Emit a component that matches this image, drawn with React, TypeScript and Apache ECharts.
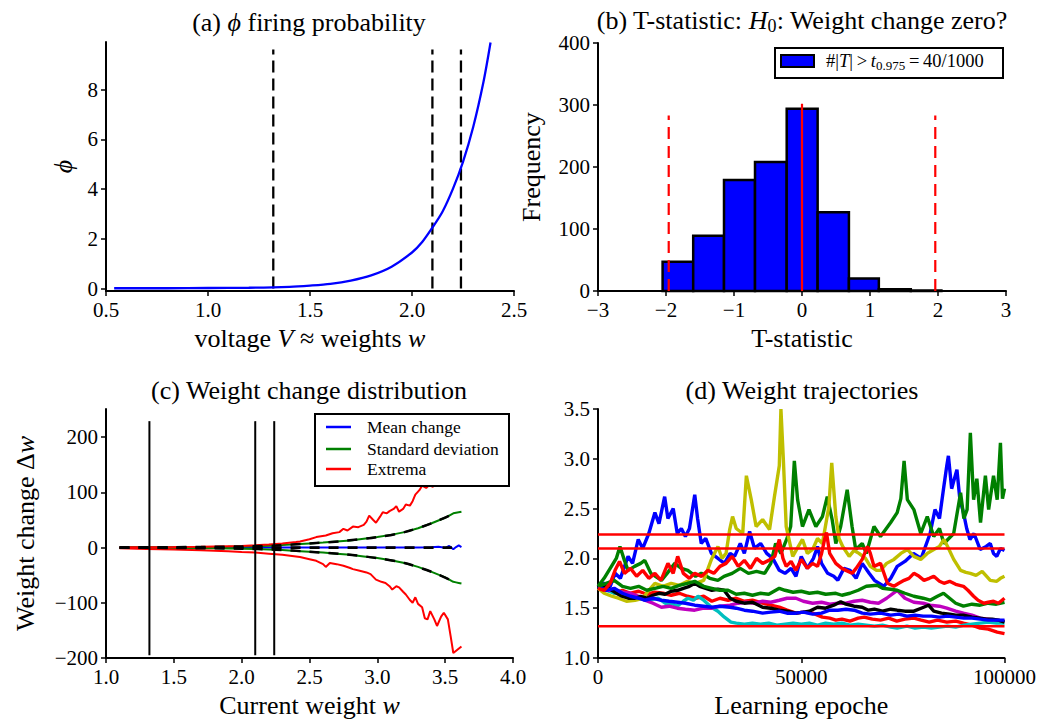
import React, { useEffect, useRef } from 'react';
import * as echarts from 'echarts';

const F = "'Liberation Serif', 'Times New Roman', serif";

// ---------- (a) phi firing probability ----------
const phiVoltage = [0.54, 0.8, 1.0, 1.2, 1.4, 1.5, 1.6, 1.7, 1.8, 1.9, 2.0, 2.05, 2.1, 2.15, 2.2, 2.25, 2.3, 2.35, 2.385];
const phiValues = [0.01, 0.01, 0.02, 0.03, 0.07, 0.12, 0.19, 0.32, 0.53, 0.88, 1.45, 1.87, 2.45, 3.1, 4.0, 5.1, 6.5, 8.3, 9.9];
const thresholds = [1.32, 2.1, 2.24];
const phiTicks = [0, 2, 4, 6, 8];

// ---------- (b) T-statistic histogram ----------
const binEdges = [-2.05, -1.6, -1.147, -0.691, -0.225, 0.23, 0.69, 1.13, 1.6, 2.05];
const binCounts = [47, 89, 179, 208, 294, 127, 20, 3, 1];
const tCritical = 1.96;
const tCritHeight = 283;
const tZeroHeight = 302;

// ---------- (c) weight change distribution ----------
const cWeight = [1.1, 1.2, 1.3, 1.4, 1.5, 1.6, 1.7, 1.8, 1.9, 2.0, 2.1, 2.2, 2.3, 2.4, 2.5, 2.6, 2.7, 2.8, 2.9, 3.0, 3.1, 3.2, 3.3, 3.4, 3.45, 3.5, 3.53, 3.56, 3.58, 3.6, 3.62];
const meanChange = [0, 0, 0, 0, 0, 0, 0, 0, 0, 0, 0, 0, 0, 0, 0, 0, 0, 0, 0, 0, 0, 0, 0, 0.5, 1.5, -0.5, 3, -3, 1, 4, 1];
const stdDev = [0.3, 0.4, 0.5, 0.6, 0.7, 0.8, 1.0, 1.2, 1.5, 2.0, 2.6, 3.4, 4.5, 6, 7.5, 9, 11, 13, 16, 19, 23, 28, 35, 44, 49, 54, 58, 62, 63, 64, 65];
const theoryWeight = [1.1, 1.5, 2.0, 2.25, 2.5, 2.75, 3.0, 3.2, 3.4, 3.55];
const theoryStd = [0.3, 0.7, 2, 3.8, 7.5, 12, 19, 28, 44, 60];
const extremaUpW = [1.1, 1.3, 1.5, 1.7, 1.9, 2.0, 2.1, 2.2, 2.3, 2.4, 2.43, 2.5, 2.55, 2.62, 2.67, 2.72, 2.75, 2.78, 2.82, 2.86, 2.9, 2.92, 2.94, 2.97, 2.99, 3.02, 3.04, 3.07, 3.09, 3.12, 3.14, 3.16, 3.19, 3.21, 3.24, 3.26, 3.28, 3.31, 3.33, 3.36, 3.38, 3.41, 3.43, 3.47, 3.5, 3.55, 3.58, 3.62];
const extremaUp = [0.5, 0.8, 1, 1.5, 2.5, 3, 4, 5.5, 7.5, 10, 11, 15, 19, 22, 26, 28, 34, 31, 38, 37, 41, 47, 58, 50, 45, 56, 64, 62, 66, 70, 75, 65, 70, 78, 76, 84, 96, 104, 112, 108, 113, 110, 120, 135, 150, 170, 185, 180];
const extremaLowW = [1.1, 1.3, 1.5, 1.7, 1.9, 2.0, 2.1, 2.2, 2.3, 2.4, 2.43, 2.5, 2.55, 2.6, 2.62, 2.65, 2.7, 2.75, 2.8, 2.82, 2.87, 2.92, 2.95, 2.99, 3.03, 3.06, 3.09, 3.11, 3.14, 3.16, 3.19, 3.21, 3.24, 3.26, 3.28, 3.3, 3.33, 3.35, 3.37, 3.39, 3.42, 3.44, 3.47, 3.49, 3.52, 3.54, 3.56, 3.59, 3.62];
const extremaLow = [-1, -2.5, -3.5, -5, -6.5, -8, -9, -11, -13, -16, -17, -21, -24, -30, -35, -28, -30, -33, -37, -39, -42, -45, -48, -58, -62, -64, -70, -76, -70, -72, -80, -85, -95, -100, -90, -102, -108, -128, -130, -115, -130, -142, -125, -118, -130, -160, -191, -185, -179];
const cTicks = [-200, -100, 0, 100, 200];

// ---------- (d) weight trajectories ----------
const trajBlue1 = [[0,1.72],[1500,1.75],[3000,1.72],[4200,1.85],[5500,1.8],[7400,2.02],[8500,1.95],[9900,2.19],[11000,2.1],[12500,2.25],[14000,2.46],[15000,2.35],[16400,2.62],[17200,2.4],[18500,2.5],[19500,2.25],[20500,2.3],[21500,2.22],[22500,2.3],[23800,2.64],[24500,2.4],[25400,2.15],[26500,2.2],[27900,2.05],[29500,2.0],[31100,1.95],[32500,2.05],[33600,2.02],[35000,2.15],[36000,2.05],[37300,2.27],[38500,2.1],[40000,2.15],[41500,2.05],[43000,2.0],[44600,1.88],[46000,1.85],[47500,1.9],[48700,1.82],[50000,2.02],[51500,1.9],[53000,2.0],[54000,2.12],[55000,1.95],[56500,1.85],[58000,1.82],[59000,1.78],[60500,1.9],[62000,1.88],[63500,1.8],[65000,1.95],[66700,1.85],[68000,1.78],[70300,1.72],[72000,1.8],[73600,1.92],[75500,1.97],[77600,2.05],[79500,2.0],[81700,2.25],[82900,2.49],[84000,2.4],[85000,2.7],[85800,2.93],[86200,3.03],[87000,2.7],[87400,2.76],[88300,2.89],[89000,2.6],[89900,2.46],[90700,2.3],[91500,2.19],[92500,2.25],[94000,2.09],[95500,2.12],[96500,2.15],[97300,2.05],[98100,2.02],[99000,2.1],[100000,2.08]];
const trajGreen1 = [[0,1.72],[1500,1.8],[3000,1.9],[4500,2.0],[5400,2.12],[6500,1.98],[7400,1.88],[9000,1.92],[10500,1.95],[11500,1.98],[13000,1.85],[15600,1.78],[17000,1.85],[18900,1.95],[20500,1.9],[22100,1.88],[24000,1.82],[25400,1.85],[27500,1.8],[29500,1.78],[31000,1.82],[33000,1.85],[35000,1.9],[37000,1.85],[39000,1.87],[41000,1.85],[42500,1.95],[43700,2.15],[45000,2.05],[46500,2.2],[47400,2.32],[48300,2.98],[49100,2.59],[50300,2.32],[51900,2.49],[53600,2.32],[55200,2.42],[56400,2.62],[57600,2.39],[58500,2.15],[59700,2.32],[61300,2.69],[62500,2.32],[63400,2.09],[65000,2.15],[66000,2.05],[67900,2.32],[69500,2.22],[72000,2.36],[73600,2.46],[74500,2.6],[75300,2.98],[76100,2.59],[77700,2.49],[79400,2.25],[81000,2.42],[82600,2.22],[84000,2.3],[85100,2.15],[87500,2.25],[89200,2.66],[90000,2.4],[90800,2.49],[91600,3.26],[92400,2.59],[93200,2.8],[94100,2.36],[95300,2.83],[96100,2.49],[97300,2.83],[98200,2.59],[99000,3.16],[99500,2.6],[100000,2.7]];
const trajRed1 = [[0,1.7],[1500,1.68],[3000,1.75],[4200,1.88],[5300,1.97],[6500,1.85],[8000,1.9],[9500,1.82],[11000,1.88],[12500,1.8],[14000,1.85],[15500,1.78],[17200,1.95],[18500,1.85],[19600,2.02],[21000,1.85],[22500,1.8],[23800,1.85],[25500,1.82],[27000,1.88],[28500,1.85],[30000,1.92],[31500,1.95],[33000,2.02],[34500,1.92],[36000,1.98],[37500,1.9],[39000,2.0],[40500,1.95],[42000,1.98],[43500,2.02],[44600,2.19],[45500,2.0],[46300,1.92],[47500,1.97],[48700,1.88],[50000,1.99],[51500,1.9],[52800,1.95],[54000,1.92],[55000,2.05],[55800,2.2],[56200,2.26],[57000,2.05],[58500,1.95],[60000,1.9],[61000,1.88],[62500,1.85],[63500,1.9],[65000,1.99],[66300,2.12],[67000,2.05],[67900,1.92],[69500,1.95],[71200,1.75],[72800,1.72],[74000,1.75],[75300,1.78],[76500,1.8],[77700,1.85],[79000,1.82],[80200,1.78],[81500,1.8],[82600,1.82],[84000,1.77],[85100,1.75],[86500,1.77],[88000,1.74],[89900,1.72],[91000,1.68],[92400,1.62],[93500,1.58],[94900,1.55],[96000,1.56],[97300,1.57],[98500,1.55],[100000,1.6]];
const trajRed2 = [[0,1.7],[2000,1.72],[4000,1.65],[6000,1.68],[8000,1.65],[10000,1.67],[12000,1.64],[14000,1.66],[16000,1.65],[18000,1.63],[20000,1.65],[22000,1.62],[24000,1.6],[26000,1.62],[28000,1.57],[30000,1.6],[32000,1.58],[34000,1.6],[36000,1.57],[38000,1.58],[40500,1.55],[42500,1.53],[44600,1.51],[46500,1.48],[48700,1.45],[50500,1.46],[52800,1.45],[54000,1.43],[55200,1.41],[57000,1.4],[58500,1.38],[60000,1.39],[62000,1.37],[64000,1.4],[65500,1.41],[67500,1.39],[69500,1.38],[71500,1.4],[73500,1.37],[75500,1.39],[77700,1.4],[79500,1.38],[81500,1.36],[83500,1.38],[85800,1.36],[88000,1.37],[89900,1.35],[92000,1.33],[94000,1.3],[96000,1.29],[98200,1.26],[100000,1.245]];
const trajCyan = [[0,1.7],[2000,1.68],[4000,1.65],[6000,1.66],[8000,1.62],[10000,1.6],[12000,1.58],[14800,1.6],[16500,1.55],[18100,1.55],[19500,1.52],[21000,1.57],[22100,1.6],[23500,1.58],[24600,1.62],[26000,1.58],[27900,1.51],[29500,1.47],[31100,1.41],[32700,1.36],[34000,1.35],[36000,1.34],[38000,1.35],[40000,1.34],[42000,1.35],[44000,1.33],[46000,1.34],[48000,1.35],[50000,1.34],[52000,1.35],[54000,1.33],[56000,1.35],[58000,1.34],[60000,1.35],[62000,1.33],[64000,1.34],[66000,1.33],[68000,1.32],[70000,1.33],[72000,1.31],[73600,1.3],[76000,1.32],[78000,1.3],[80000,1.31],[82000,1.3],[84000,1.31],[86000,1.32],[88000,1.31],[90000,1.33],[92000,1.34],[94000,1.35],[96000,1.36],[98000,1.35],[100000,1.35]];
const trajMagenta = [[0,1.7],[2000,1.68],[4200,1.68],[6000,1.66],[8000,1.65],[10000,1.62],[11500,1.58],[13500,1.55],[15600,1.51],[17500,1.52],[19500,1.5],[21500,1.49],[23800,1.48],[26000,1.5],[28000,1.5],[30000,1.52],[32500,1.53],[34500,1.55],[36500,1.56],[38500,1.55],[40500,1.57],[42500,1.56],[44600,1.58],[46500,1.6],[48700,1.6],[50500,1.57],[52800,1.55],[55000,1.56],[57000,1.54],[59000,1.55],[61000,1.55],[63000,1.57],[65000,1.58],[67000,1.56],[69000,1.55],[71000,1.6],[73600,1.68],[75500,1.6],[77700,1.56],[80000,1.55],[81700,1.53],[84000,1.52],[85800,1.5],[88000,1.47],[89900,1.45],[92000,1.43],[94000,1.4],[96000,1.39],[98000,1.38],[100000,1.37]];
const trajYellow = [[0,1.7],[1500,1.65],[3400,1.62],[5000,1.6],[7000,1.57],[9100,1.58],[11000,1.6],[12500,1.68],[14000,1.75],[16000,1.72],[18000,1.75],[20000,1.73],[22000,1.77],[24000,1.75],[26000,1.78],[27900,1.99],[29500,2.12],[30500,2.0],[31500,2.05],[32400,2.29],[33100,2.42],[34000,2.3],[35600,2.25],[36500,2.83],[37700,2.59],[38900,2.32],[40500,2.39],[42200,2.29],[43400,2.62],[44600,2.93],[45000,3.5],[45600,2.99],[46300,2.32],[47900,2.02],[49000,2.1],[50300,2.19],[51500,2.05],[52800,2.09],[54000,2.2],[55200,2.15],[56800,2.52],[57500,2.96],[58500,2.42],[59300,2.2],[60200,2.12],[61800,2.02],[63000,2.08],[64200,2.05],[65800,2.0],[67000,1.92],[68500,1.88],[69500,1.88],[71000,1.95],[72800,1.99],[74500,2.05],[76100,2.09],[77700,2.02],[79400,1.99],[81000,2.05],[82600,2.09],[84000,2.12],[85100,2.19],[86000,2.12],[87500,1.99],[89200,1.88],[90500,1.86],[91600,1.85],[93000,1.83],[94500,1.87],[96500,1.78],[98100,1.77],[99000,1.8],[100000,1.82]];
const trajBlack = [[0,1.7],[2000,1.72],[3400,1.68],[5000,1.64],[5900,1.62],[7500,1.6],[9100,1.6],[10500,1.62],[12000,1.6],[13500,1.63],[15000,1.65],[16500,1.64],[18000,1.67],[19600,1.68],[21000,1.7],[22500,1.72],[23800,1.75],[25000,1.72],[26500,1.7],[28000,1.68],[29500,1.69],[31000,1.68],[32500,1.6],[34000,1.57],[36000,1.55],[38000,1.56],[40500,1.51],[42500,1.5],[44600,1.48],[46500,1.47],[48700,1.45],[50500,1.46],[52000,1.47],[54000,1.51],[56000,1.5],[58000,1.53],[59700,1.565],[61000,1.54],[63000,1.52],[65000,1.51],[66500,1.48],[68000,1.49],[70000,1.47],[72000,1.49],[73600,1.48],[75500,1.47],[77700,1.47],[79500,1.5],[81300,1.53],[82600,1.47],[84500,1.45],[86500,1.44],[88000,1.43],[89900,1.43],[92000,1.41],[94000,1.4],[95500,1.39],[97000,1.39],[98500,1.38],[100000,1.36]];
const trajBlue2 = [[0,1.72],[2000,1.68],[4000,1.7],[6000,1.65],[8000,1.62],[10000,1.6],[11500,1.58],[13500,1.6],[15600,1.58],[17500,1.57],[19600,1.56],[21500,1.55],[23800,1.53],[26000,1.52],[28000,1.51],[30000,1.52],[32500,1.51],[34000,1.5],[36000,1.48],[38000,1.47],[40500,1.45],[42500,1.46],[44600,1.47],[46500,1.45],[48700,1.45],[50500,1.46],[52800,1.44],[55000,1.45],[57000,1.48],[59000,1.48],[61000,1.49],[63000,1.48],[65000,1.45],[67000,1.44],[69500,1.45],[72000,1.43],[74000,1.44],[76000,1.42],[78000,1.43],[80000,1.42],[82000,1.42],[84000,1.41],[86000,1.42],[88000,1.41],[90000,1.4],[92000,1.4],[94000,1.39],[96000,1.38],[98000,1.38],[100000,1.38]];
const trajGreen2 = [[0,1.72],[2000,1.75],[4000,1.78],[6000,1.72],[8000,1.7],[10000,1.72],[12000,1.68],[14000,1.7],[16000,1.72],[18000,1.7],[20000,1.73],[22000,1.75],[23800,1.77],[26000,1.72],[28000,1.7],[30000,1.68],[32000,1.68],[34000,1.64],[36000,1.65],[38000,1.63],[40000,1.65],[42000,1.64],[44600,1.7],[46000,1.68],[48000,1.66],[50000,1.67],[52000,1.65],[54000,1.66],[56000,1.64],[58500,1.65],[60000,1.63],[62000,1.65],[64000,1.68],[66000,1.72],[68700,1.73],[70000,1.7],[72000,1.69],[73600,1.68],[75500,1.65],[77700,1.62],[80000,1.6],[81700,1.58],[83500,1.62],[85000,1.65],[86500,1.6],[88000,1.55],[89900,1.52],[92000,1.54],[94000,1.53],[96000,1.55],[98000,1.54],[100000,1.56]];
const trajectorySet = [trajBlue1, trajGreen1, trajRed2, trajCyan, trajMagenta, trajYellow, trajBlack, trajBlue2, trajGreen2, trajRed1];
const trajectoryColors = ['#0000ff', '#008000', '#ff0000', '#00bfbf', '#bf00bf', '#bfbf00', '#000000', '#0000ff', '#008000', '#ff0000'];

const fmt = (d?: number) => (v: number) => {
  const s = d == null ? String(Math.round(v)) : v.toFixed(d);
  return s.replace('-', '\u2212');
};

const nameStyle = {
  fontFamily: F, fontSize: 26, color: '#000',
  rich: {
    i: { fontFamily: F, fontSize: 26, color: '#000', fontStyle: 'italic' },
    n: { fontFamily: F, fontSize: 26, color: '#000' },
  },
};

function axis(gridIndex: number, extra: any) {
  return {
    type: 'value',
    gridIndex,
    axisLine: { show: true, onZero: false, lineStyle: { color: '#000', width: 2 } },
    axisTick: { show: true, length: 5, lineStyle: { color: '#000', width: 1.5 }, ...(extra.tick || {}) },
    axisLabel: { color: '#000', fontFamily: F, fontSize: 21, margin: 8, ...(extra.label || {}) },
    splitLine: { show: false },
    nameTextStyle: nameStyle,
    nameLocation: 'middle',
    ...extra.rest,
  };
}

const lineS = (xi: number, data: any[], color: string, width: number, extra: any = {}) => ({
  type: 'line', xAxisIndex: xi, yAxisIndex: xi, data, showSymbol: false, symbol: 'none',
  lineStyle: { color, width, ...(extra.ls || {}) }, itemStyle: { color }, z: extra.z ?? 2, silent: true, smooth: extra.smooth ?? false,
});

const txt = (x: number, y: number, text: string, size: number, align: string, rich: any = {}, z = 20) => ({
  type: 'text', x, y, z,
  style: {
    text, fill: '#000', fontFamily: F, fontSize: size, align, textAlign: align,
    verticalAlign: 'middle', textVerticalAlign: 'middle', rich,
  },
});

export default function App() {
  const ref = useRef<HTMLDivElement>(null);
  useEffect(() => {
    if (!ref.current) return;
    const chart = echarts.init(ref.current, undefined, { renderer: 'svg' });
    const series: any[] = [];

    // (a)
    series.push(lineS(0, phiVoltage.map((v, i) => [v, phiValues[i]]), '#0000ff', 2.3, { smooth: 0.3, z: 3 }));
    thresholds.forEach((t) => series.push(lineS(0, [[t, 0], [t, 9.62]], '#000', 2.3, { ls: { type: [12, 6] } })));

    // (b)
    series.push({
      type: 'custom', xAxisIndex: 1, yAxisIndex: 1, silent: true, z: 2,
      data: binCounts.map((c, i) => [binEdges[i], binEdges[i + 1], c]),
      encode: { x: [0, 1], y: 2 },
      renderItem: (params: any, api: any) => {
        const p0 = api.coord([api.value(0), api.value(2)]);
        const p1 = api.coord([api.value(1), 0]);
        return {
          type: 'rect',
          shape: { x: p0[0], y: p0[1], width: p1[0] - p0[0], height: p1[1] - p0[1] },
          style: { fill: '#0000ff', stroke: '#000', lineWidth: 2.5 },
        };
      },
    });
    [-tCritical, tCritical].forEach((t) => series.push(lineS(1, [[t, 0], [t, tCritHeight]], '#ff0000', 2.2, { ls: { type: [12, 7] }, z: 4 })));
    series.push(lineS(1, [[0, 0], [0, tZeroHeight]], '#ff0000', 2.2, { z: 4 }));

    // (c)
    series.push(lineS(2, cWeight.map((w, i) => [w, meanChange[i]]), '#0000ff', 2));
    series.push(lineS(2, cWeight.map((w, i) => [w, stdDev[i]]), '#008000', 2));
    series.push(lineS(2, cWeight.map((w, i) => [w, -stdDev[i]]), '#008000', 2));
    series.push(lineS(2, extremaUpW.map((w, i) => [w, extremaUp[i]]), '#ff0000', 2));
    series.push(lineS(2, extremaLowW.map((w, i) => [w, extremaLow[i]]), '#ff0000', 2));
    series.push(lineS(2, theoryWeight.map((w, i) => [w, theoryStd[i]]), '#000', 2.5, { ls: { type: [10, 9] }, smooth: 0.3, z: 3 }));
    series.push(lineS(2, theoryWeight.map((w, i) => [w, -theoryStd[i]]), '#000', 2.5, { ls: { type: [10, 9] }, smooth: 0.3, z: 3 }));
    series.push(lineS(2, theoryWeight.map((w) => [w, 0]), '#000', 2.8, { ls: { type: [10, 9] }, z: 3 }));
    thresholds.forEach((t) => series.push(lineS(2, [[t, -195], [t, 229]], '#000', 2, { z: 3 })));

    // (d)
    trajectorySet.forEach((d, i) => series.push(lineS(3, d, trajectoryColors[i], 3.4, { z: 2 })));
    thresholds.forEach((t) => series.push(lineS(3, [[0, t], [100000, t]], '#ff0000', 2.5, { z: 4 })));

    const subRich = (size: number, lh: number, subSize: number, subLh: number) => ({
      i: { fontFamily: F, fontSize: size, fontStyle: 'italic', fill: '#000', lineHeight: lh },
      n: { fontFamily: F, fontSize: size, fill: '#000', lineHeight: lh },
      sub: { fontFamily: F, fontSize: subSize, fill: '#000', lineHeight: subLh, verticalAlign: 'bottom' },
    });

    const graphic: any[] = [
      txt(309, 22, '{n|(a) }{i|\u03d5}{n| firing probability}', 26, 'center', subRich(26, 30, 18, 18)),
      txt(802, 20, '{n|(b) T-statistic: }{i|H}{sub|0}{n|: Weight change zero?}', 26, 'center', subRich(26, 30, 18, 18)),
      txt(309, 390, '(c) Weight change distribution', 26, 'center'),
      txt(802, 390, '(d) Weight trajectories', 26, 'center'),
      // legend (b)
      { type: 'rect', z: 10, shape: { x: 775, y: 48, width: 228, height: 30 }, style: { fill: '#fff', stroke: '#000', lineWidth: 2 } },
      { type: 'rect', z: 11, shape: { x: 781, y: 55, width: 33, height: 12 }, style: { fill: '#0000ff', stroke: '#000', lineWidth: 2 } },
      txt(826, 61, '{n|#|}{i|T}{n||\u2009>\u2009}{i|t}{sub|0.975}{n|\u2009=\u200940/1000}', 18.5, 'left', subRich(18.5, 22, 13, 12), 11),
      // legend (c)
      { type: 'rect', z: 10, shape: { x: 315, y: 414, width: 194, height: 72 }, style: { fill: '#fff', stroke: '#000', lineWidth: 2 } },
      { type: 'line', z: 11, shape: { x1: 326, y1: 427, x2: 351, y2: 427 }, style: { stroke: '#0000ff', lineWidth: 2.5 } },
      { type: 'line', z: 11, shape: { x1: 326, y1: 449, x2: 351, y2: 449 }, style: { stroke: '#008000', lineWidth: 2.5 } },
      { type: 'line', z: 11, shape: { x1: 326, y1: 469, x2: 351, y2: 469 }, style: { stroke: '#ff0000', lineWidth: 2.5 } },
      txt(367, 427, 'Mean change', 17.5, 'left', {}, 11),
      txt(367, 449, 'Standard deviation', 17.5, 'left', {}, 11),
      txt(367, 469, 'Extrema', 17.5, 'left', {}, 11),
    ];

    chart.setOption({
      animation: false,
      backgroundColor: '#fff',
      grid: [
        { left: 106, top: 42, width: 408, height: 249 },
        { left: 598, top: 43, width: 408, height: 248 },
        { left: 106, top: 409, width: 407, height: 249 },
        { left: 598, top: 409, width: 408, height: 249 },
      ],
      xAxis: [
        axis(0, { rest: { min: 0.5, max: 2.5, interval: 0.5, name: '{n|voltage }{i|V}{n| \u2248 weights }{i|w}', nameGap: 34 }, label: { formatter: fmt(1) } }),
        axis(1, { rest: { min: -3, max: 3, interval: 1, name: 'T-statistic', nameGap: 34 }, label: { formatter: fmt() } }),
        axis(2, { rest: { min: 1, max: 4, interval: 0.5, name: '{n|Current weight }{i|w}', nameGap: 34 }, label: { formatter: fmt(1) } }),
        axis(3, { rest: { min: 0, max: 100000, interval: 50000, name: 'Learning epoche', nameGap: 34 }, label: { formatter: fmt() } }),
      ],
      yAxis: [
        axis(0, { rest: { min: -0.1, max: 9.92, name: '{i|\u03d5}', nameGap: 30, nameRotate: 90 },
          label: { formatter: fmt(), customValues: phiTicks }, tick: { customValues: phiTicks } }),
        axis(1, { rest: { min: 0, max: 400, interval: 100, name: 'Frequency', nameGap: 54, nameRotate: 90 }, label: { formatter: fmt() } }),
        axis(2, { rest: { min: -200, max: 251, name: '{n|Weight change \u0394}{i|w}', nameGap: 68, nameRotate: 90 },
          label: { formatter: fmt(), customValues: cTicks }, tick: { customValues: cTicks } }),
        axis(3, { rest: { min: 1, max: 3.5, interval: 0.5 }, label: { formatter: fmt(1) } }),
      ],
      series,
      graphic,
    });
    return () => chart.dispose();
  }, []);
  return <div ref={ref} style={{ position: 'fixed', left: 0, top: 0, width: 1039, height: 727, background: '#fff' }} />;
}
